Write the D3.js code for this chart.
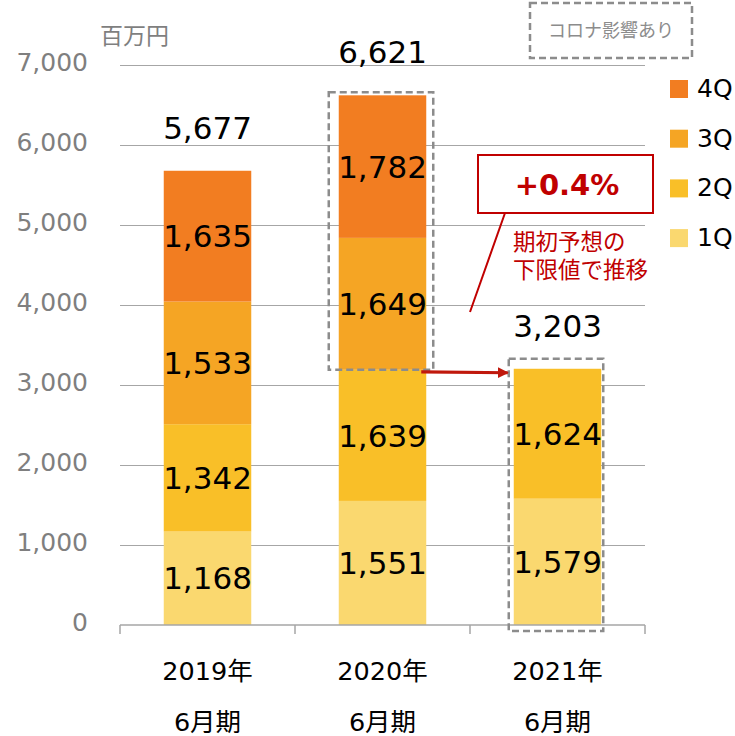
<!doctype HTML>
<meta charset="utf-8">
<style>
    body { margin: 0; background: #fff; }
    text { font-family: "DejaVu Sans", "Noto Sans CJK JP", sans-serif; }
    .grid line { stroke: #a6a6a6; stroke-width: 1.2; }
    .grid path { display: none; }
    .yaxis text { fill: #7f7f7f; font-size: 25px; }
    .yaxis path, .yaxis line { display: none; }
</style>
<html>
<head>
    <script src="https://d3js.org/d3.v7.min.js"></script>
</head>
<body>
<div id="chart"></div>
<script>

    // data
    var years = ["2019年", "2020年", "2021年"];
    var periods = ["6月期", "6月期", "6月期"];
    var quarters = ["1Q", "2Q", "3Q", "4Q"];
    var q1 = [1168, 1551, 1579];
    var q2 = [1342, 1639, 1624];
    var q3 = [1533, 1649, 0];
    var q4 = [1635, 1782, 0];
    var totals = [5677, 6621, 3203];
    var yTicks = [0, 1000, 2000, 3000, 4000, 5000, 6000, 7000];

    var colors = {"1Q": "#fad86f", "2Q": "#f9bf28", "3Q": "#f5a524", "4Q": "#f27d21"};

    var W = 735, H = 736;
    var plotL = 120, plotR = 645, plotT = 65, plotB = 625;

    var svg = d3.select("#chart")
        .append("svg")
        .attr("width", W)
        .attr("height", H);

    var xScale = d3.scaleBand()
        .domain(years)
        .range([plotL, plotR])
        .paddingInner(0.5)
        .paddingOuter(0.25);
    var yScale = d3.scaleLinear()
        .domain([0, 7000])
        .range([plotB, plotT]);

    // gridlines
    svg.append("g")
        .attr("class", "grid")
        .attr("transform", "translate(" + plotL + ",0)")
        .call(d3.axisRight(yScale).tickValues(yTicks.slice(1)).tickSize(plotR - plotL).tickFormat(""));

    // y axis labels
    svg.append("g")
        .attr("class", "yaxis")
        .attr("transform", "translate(" + plotL + ",0)")
        .call(d3.axisLeft(yScale).tickValues(yTicks).tickSize(0).tickPadding(32)
            .tickFormat(d3.format(",")))
        .selectAll("text").attr("dy", "0.2em");

    svg.append("text")
        .attr("x", 100).attr("y", 44)
        .style("font-size", "23px")
        .style("fill", "#7f7f7f")
        .text("百万円");

    // stacked data
    var rows = years.map(function(y, i) {
        return {year: y, "1Q": q1[i], "2Q": q2[i], "3Q": q3[i], "4Q": q4[i]};
    });
    var series = d3.stack().keys(quarters)(rows);

    var groups = svg.selectAll(".layer")
        .data(series)
        .enter().append("g")
        .attr("class", "layer")
        .attr("fill", function(d) { return colors[d.key]; });

    groups.selectAll("rect")
        .data(function(d) { return d.filter(function(s) { return s[1] > s[0]; }); })
        .enter().append("rect")
        .attr("x", function(d) { return xScale(d.data.year); })
        .attr("width", xScale.bandwidth())
        .attr("y", function(d) { return yScale(d[1]); })
        .attr("height", function(d) { return yScale(d[0]) - yScale(d[1]); });

    groups.selectAll("text")
        .data(function(d) { return d.filter(function(s) { return s[1] > s[0]; }); })
        .enter().append("text")
        .attr("x", function(d) { return xScale(d.data.year) + xScale.bandwidth() / 2; })
        .attr("y", function(d) { return yScale((d[0] + d[1]) / 2); })
        .attr("dy", "0.36em")
        .attr("text-anchor", "middle")
        .style("font-size", "31px")
        .style("fill", "#000")
        .text(function(d) { return d3.format(",")(d[1] - d[0]); });

    // totals
    svg.selectAll(".total")
        .data(totals)
        .enter().append("text")
        .attr("class", "total")
        .attr("x", function(d, i) { return xScale(years[i]) + xScale.bandwidth() / 2; })
        .attr("y", function(d) { return yScale(d) - 32; })
        .attr("text-anchor", "middle")
        .style("font-size", "31px")
        .style("fill", "#000")
        .text(function(d) { return d3.format(",")(d); });

    // x axis
    svg.append("line")
        .attr("x1", plotL).attr("x2", plotR)
        .attr("y1", plotB).attr("y2", plotB)
        .attr("stroke", "#a6a6a6").attr("stroke-width", 1.5);
    var step = xScale.step();
    var edges = years.map(function(y) { return xScale(y) - step * 0.25; }).concat([plotR]);
    svg.selectAll(".xtick")
        .data(edges)
        .enter().append("line")
        .attr("x1", function(d) { return d; }).attr("x2", function(d) { return d; })
        .attr("y1", plotB).attr("y2", plotB + 9)
        .attr("stroke", "#a6a6a6").attr("stroke-width", 1.5);

    svg.selectAll(".xlab")
        .data(years)
        .enter().append("text")
        .attr("x", function(d) { return xScale(d) + xScale.bandwidth() / 2; })
        .attr("y", 680)
        .attr("text-anchor", "middle")
        .style("font-size", "25.5px")
        .text(function(d) { return d; });
    svg.selectAll(".xlab2")
        .data(periods)
        .enter().append("text")
        .attr("x", function(d, i) { return xScale(years[i]) + xScale.bandwidth() / 2; })
        .attr("y", 731)
        .attr("text-anchor", "middle")
        .style("font-size", "25.5px")
        .text(function(d) { return d; });

    // legend
    var legend = svg.append("g").attr("transform", "translate(670,80)");
    var legendItems = legend.selectAll("g")
        .data(quarters.slice().reverse())
        .enter().append("g")
        .attr("transform", function(d, i) { return "translate(0," + (i * 49.7) + ")"; });
    legendItems.append("rect")
        .attr("width", 18).attr("height", 18)
        .attr("fill", function(d) { return colors[d]; });
    legendItems.append("text")
        .attr("x", 27).attr("y", 17)
        .style("font-size", "25px")
        .text(function(d) { return d; });

    // dashed boxes (コロナ影響)
    var dash = {stroke: "#8c8c8c", "stroke-width": 2.5, "stroke-dasharray": "7,4", fill: "none"};
    function dashed(sel) {
        Object.keys(dash).forEach(function(k) { sel.attr(k, dash[k]); });
        return sel;
    }
    var x20 = xScale(years[1]), x21 = xScale(years[2]), bw = xScale.bandwidth();
    dashed(svg.append("rect")
        .attr("x", x20 - 10).attr("width", bw + 17)
        .attr("y", yScale(totals[1]) - 3)
        .attr("height", yScale(q1[1] + q2[1]) - yScale(totals[1]) + 3));
    dashed(svg.append("rect")
        .attr("x", x21 - 5).attr("width", bw + 7)
        .attr("y", yScale(totals[2]) - 10)
        .attr("height", yScale(0) - yScale(totals[2]) + 16));
    dashed(svg.append("rect")
        .attr("x", 530).attr("y", 3).attr("width", 162).attr("height", 55));
    svg.append("text")
        .attr("x", 611).attr("y", 31).attr("dy", "0.35em")
        .attr("text-anchor", "middle")
        .style("font-size", "18px")
        .style("fill", "#8c8c8c")
        .text("コロナ影響あり");

    // red arrow
    var red = "#c00000";
    svg.append("defs").append("marker")
        .attr("id", "arrow")
        .attr("viewBox", "0 0 10 10")
        .attr("refX", 9).attr("refY", 5)
        .attr("markerWidth", 3.4).attr("markerHeight", 4.8)
        .attr("markerUnits", "strokeWidth")
        .attr("orient", "auto")
        .append("path").attr("d", "M0,0L10,5L0,10Z").attr("fill", "#c0180c");
    svg.append("line")
        .attr("x1", x20 + bw - 5).attr("y1", yScale(q1[1] + q2[1]) + 2)
        .attr("x2", x21 - 6).attr("y2", yScale(totals[2]) + 4)
        .attr("stroke", "#c0180c").attr("stroke-width", 3.2)
        .attr("marker-end", "url(#arrow)");

    // callout
    svg.append("line")
        .attr("x1", 505).attr("y1", 213).attr("x2", 470).attr("y2", 312)
        .attr("stroke", red).attr("stroke-width", 2);
    svg.append("rect")
        .attr("x", 478).attr("y", 155).attr("width", 175).attr("height", 58)
        .attr("fill", "#fff").attr("stroke", red).attr("stroke-width", 2);
    svg.append("text")
        .attr("x", 567).attr("y", 195)
        .attr("text-anchor", "middle")
        .style("font-size", "29px").style("font-weight", "bold")
        .style("fill", red)
        .text("+0.4%");
    svg.append("text")
        .attr("x", 513).attr("y", 250)
        .style("font-size", "22.5px").style("fill", red)
        .text("期初予想の");
    svg.append("text")
        .attr("x", 513).attr("y", 278)
        .style("font-size", "22.5px").style("fill", red)
        .text("下限値で推移");

</script>
</body>
</html>
